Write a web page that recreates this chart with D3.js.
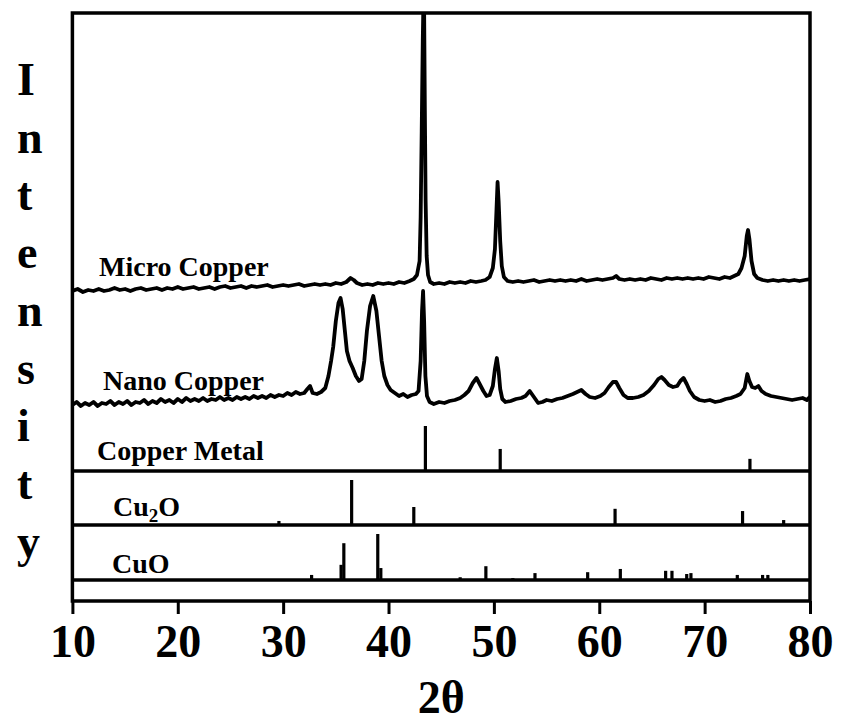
<!DOCTYPE html>
<html>
<head>
<meta charset="utf-8">
<script src="https://cdn.jsdelivr.net/npm/d3@7"></script>
<style>
  html, body { margin: 0; padding: 0; background: #fff; }
  svg text { font-family: "Liberation Serif", "Times New Roman", Times, serif; font-weight: bold; fill: #000; }
</style>
</head>
<body>
<svg id="chart" width="842" height="722"></svg>
<script>
// XRD patterns: [2θ, intensity (a.u.)]
const microCopper = [
  [10,180],[10.5,182],[11,179],[11.5,181],[12,180],[12.5,182],[13,180],[13.5,181],[14,183],[14.5,181],
  [15,182],[15.5,180],[16,182],[16.5,183],[17,181],[17.5,182],[18,183],[18.5,181],[19,183],[19.5,182],
  [20,184],[20.5,182],[21,183],[21.5,184],[22,182],[22.5,183],[23,184],[23.5,182],[24,184],[24.5,185],
  [25,183],[25.5,184],[26,185],[26.5,183],[27,185],[27.5,184],[28,185],[28.5,186],[29,184],[29.5,185],
  [30,186],[30.5,185],[31,186],[31.5,187],[32,185],[32.5,186],[33,187],[33.5,186],[34,187],[34.5,186],
  [35,188],[35.5,187],[36,189],[36.4,193],[36.7,191],[37,188],[37.5,186],[38,187],[38.5,186],[39,188],
  [39.5,187],[40,188],[40.5,187],[41,189],[41.5,188],[42,190],[42.4,192],[42.7,196],[42.95,210],[43.05,254],
  [43.15,340],[43.25,430],[43.3,462],[43.38,462],[43.45,360],[43.52,271],[43.62,215],[43.75,196],[43.95,189],[44.3,187],
  [44.8,188],[45.3,187],[45.8,189],[46.3,188],[46.8,189],[47.3,188],[47.8,190],[48.3,189],[48.8,190],[49.2,191],
  [49.6,194],[49.9,203],[50.1,222],[50.25,262],[50.35,289],[50.45,270],[50.6,230],[50.75,205],[50.95,194],[51.3,190],
  [51.8,189],[52.3,190],[52.8,189],[53.3,190],[53.8,191],[54.3,189],[54.8,190],[55.3,191],[55.8,190],[56.3,191],
  [56.8,190],[57.3,191],[57.8,190],[58.3,192],[58.8,190],[59.3,191],[59.8,192],[60.3,191],[60.8,192],[61.3,193],
  [61.6,195],[61.9,192],[62.4,191],[62.9,192],[63.4,191],[63.9,192],[64.4,191],[64.9,193],[65.4,192],[65.9,191],
  [66.4,193],[66.9,192],[67.4,193],[67.9,192],[68.4,193],[68.9,192],[69.4,193],[69.9,192],[70.4,194],[70.9,193],
  [71.4,192],[71.9,194],[72.4,193],[72.8,195],[73.2,197],[73.5,203],[73.8,215],[74.0,235],[74.12,241],[74.25,232],
  [74.45,210],[74.7,197],[75.0,193],[75.5,191],[76,190],[76.5,191],[77,190],[77.5,191],[78,190],[78.5,191],
  [79,190],[79.5,191],[80,192]
];

const nanoCopper = [
  [10,66],[10.4,69],[10.8,65],[11.2,68],[11.6,66],[12,69],[12.4,65],[12.8,68],[13.2,67],[13.6,70],
  [14,66],[14.4,69],[14.8,67],[15.2,70],[15.6,66],[16,69],[16.4,68],[16.8,71],[17.2,67],[17.6,70],
  [18,68],[18.4,72],[18.8,69],[19.2,71],[19.6,68],[20,72],[20.4,69],[20.8,73],[21.2,70],[21.6,72],
  [22,70],[22.4,73],[22.8,70],[23.2,72],[23.6,71],[24,74],[24.4,71],[24.8,73],[25.2,71],[25.6,74],
  [26,72],[26.4,74],[26.8,72],[27.2,75],[27.6,73],[28,75],[28.4,73],[28.8,76],[29.2,74],[29.6,76],
  [30,75],[30.4,78],[30.8,76],[31.2,79],[31.6,77],[32.0,78],[32.3,82],[32.55,85],[32.8,78],[33.2,77],
  [33.6,79],[34.0,83],[34.3,95],[34.55,110],[34.75,124],[35.0,150],[35.25,168],[35.45,173],[35.65,162],[35.85,141],
  [36.05,120],[36.3,110],[36.6,103],[36.9,95],[37.2,90],[37.45,92],[37.7,110],[37.95,140],[38.25,165],[38.55,175],
  [38.85,160],[39.1,135],[39.35,110],[39.6,95],[39.9,86],[40.2,81],[40.6,78],[41.0,75],[41.4,77],[41.8,74],
  [42.2,76],[42.6,77],[42.85,80],[43.05,110],[43.18,160],[43.28,180],[43.38,150],[43.5,95],[43.65,75],[43.9,69],
  [44.3,67],[44.8,69],[45.3,68],[45.8,70],[46.3,71],[46.8,73],[47.2,76],[47.6,80],[48.0,88],[48.35,93],
  [48.7,86],[49.0,80],[49.3,75],[49.6,76],[49.9,85],[50.1,102],[50.28,113],[50.45,100],[50.6,82],[50.8,72],
  [51.1,69],[51.6,70],[52.1,72],[52.6,73],[53.0,75],[53.4,80],[53.8,74],[54.2,68],[54.6,69],[55.0,71],
  [55.5,70],[56.0,72],[56.5,73],[57.0,75],[57.5,77],[57.9,79],[58.3,81],[58.7,77],[59.1,74],[59.6,73],
  [60.1,75],[60.5,78],[60.9,84],[61.3,89],[61.6,89],[61.9,83],[62.3,76],[62.7,73],[63.2,73],[63.7,74],
  [64.2,76],[64.7,80],[65.2,86],[65.6,92],[65.9,94],[66.2,91],[66.6,86],[67.0,84],[67.4,85],[67.7,90],
  [68.0,93],[68.3,87],[68.6,80],[69.0,74],[69.5,71],[70.0,70],[70.5,71],[71.0,69],[71.5,70],[72.0,72],
  [72.5,73],[73.0,75],[73.4,77],[73.8,83],[74.05,97],[74.25,90],[74.5,84],[74.8,83],[75.1,85],[75.4,80],
  [75.8,77],[76.3,75],[76.8,74],[77.3,73],[77.8,72],[78.3,71],[78.8,72],[79.3,73],[79.7,71],[80,74]
];

// Reference stick patterns: [2θ, relative intensity %]
const copperMetal = [[43.5,100],[50.6,49],[74.3,27]];
const cu2O = [[29.6,9],[36.5,100],[42.4,40],[61.5,36],[73.6,31],[77.5,11]];
const cuO = [
  [32.7,11],[35.5,33],[35.76,80],[38.98,100],[39.27,26],[46.8,6],[49.24,30],[51.8,4],[53.9,15],
  [58.9,17],[62.0,24],[66.3,20],[66.9,20],[68.3,13],[68.7,15],[73.1,11],[75.5,11],[76.0,11]
];

const xTicks = [10,20,30,40,50,60,70,80];
const yLabel = "Intensity";
const xLabel = "2θ";

const svg = d3.select("#chart");
const plotLeft = 72.4, plotRight = 810, plotTop = 13, plotBottom = 601;
const panelBase = { metal: 471, cu2o: 525, cuo: 580 };

const x = d3.scaleLinear().domain([10, 80]).range([plotLeft, plotRight]);
const yPattern = d3.scaleLinear().domain([0, 458]).range([panelBase.metal, plotTop]);
const yMetal = d3.scaleLinear().domain([0, 100]).range([panelBase.metal, panelBase.metal - 45]);
const yCu2O = d3.scaleLinear().domain([0, 100]).range([panelBase.cu2o, panelBase.cu2o - 45]);
const yCuO = d3.scaleLinear().domain([0, 100]).range([panelBase.cuo, panelBase.cuo - 46]);

svg.append("clipPath").attr("id", "plotClip")
  .append("rect").attr("x", plotLeft).attr("y", plotTop)
  .attr("width", plotRight - plotLeft).attr("height", panelBase.metal - plotTop);

const line = d3.line().x(d => x(d[0])).y(d => yPattern(d[1]));

const curves = svg.append("g").attr("clip-path", "url(#plotClip)");
[microCopper, nanoCopper].forEach(series => {
  curves.append("path")
    .datum(series)
    .attr("d", line)
    .attr("fill", "none")
    .attr("stroke", "#000")
    .attr("stroke-width", 3.8)
    .attr("stroke-linejoin", "round")
    .attr("stroke-linecap", "round");
});

// stick patterns
function drawSticks(data, yScale) {
  svg.append("g").selectAll("line").data(data).join("line")
    .attr("x1", d => x(d[0])).attr("x2", d => x(d[0]))
    .attr("y1", yScale(0)).attr("y2", d => yScale(d[1]))
    .attr("stroke", "#000").attr("stroke-width", 3.2);
}
drawSticks(copperMetal, yMetal);
drawSticks(cu2O, yCu2O);
drawSticks(cuO, yCuO);

// frame and panel separators
const frame = svg.append("g").attr("stroke", "#000").attr("fill", "none");
frame.append("rect").attr("x", plotLeft).attr("y", plotTop)
  .attr("width", plotRight - plotLeft).attr("height", plotBottom - plotTop)
  .attr("stroke-width", 3.5);
[panelBase.metal, panelBase.cu2o, panelBase.cuo].forEach(yy => {
  frame.append("line").attr("x1", plotLeft).attr("x2", plotRight).attr("y1", yy).attr("y2", yy).attr("stroke-width", 3.5);
});

// bottom axis
const axis = svg.append("g").attr("transform", `translate(0,${plotBottom})`)
  .call(d3.axisBottom(x).tickValues(xTicks).tickFormat(d3.format("d")).tickSize(13).tickSizeOuter(0).tickPadding(10));
axis.select(".domain").remove();
axis.selectAll(".tick line").attr("stroke", "#000").attr("stroke-width", 3);
axis.selectAll(".tick text")
  .style("font-family", "'Liberation Serif', 'Times New Roman', serif")
  .style("font-weight", "bold")
  .style("font-size", "46px")
  .attr("fill", "#000");

svg.append("text").attr("x", (plotLeft + plotRight) / 2).attr("y", 713)
  .attr("text-anchor", "middle").style("font-size", "46px").text(xLabel);

// vertical axis title, one letter per line
const yt = svg.append("text").style("font-size", "46px");
yLabel.split("").forEach((ch, i) => {
  yt.append("tspan").attr("x", 17).attr("y", 95 + i * 57.7).text(ch);
});

// series labels
const labelSize = "28px";
svg.append("text").attr("x", 99).attr("y", 276).style("font-size", labelSize).text("Micro Copper");
svg.append("text").attr("x", 103).attr("y", 390).style("font-size", labelSize).text("Nano Copper");
svg.append("text").attr("x", 97).attr("y", 460).style("font-size", labelSize).text("Copper Metal");
const cu2oLabel = svg.append("text").attr("x", 113).attr("y", 516).style("font-size", labelSize);
cu2oLabel.append("tspan").text("Cu");
cu2oLabel.append("tspan").attr("dy", 6).style("font-size", "19px").text("2");
cu2oLabel.append("tspan").attr("dy", -6).text("O");
svg.append("text").attr("x", 112).attr("y", 573).style("font-size", labelSize).text("CuO");
</script>
</body>
</html>
